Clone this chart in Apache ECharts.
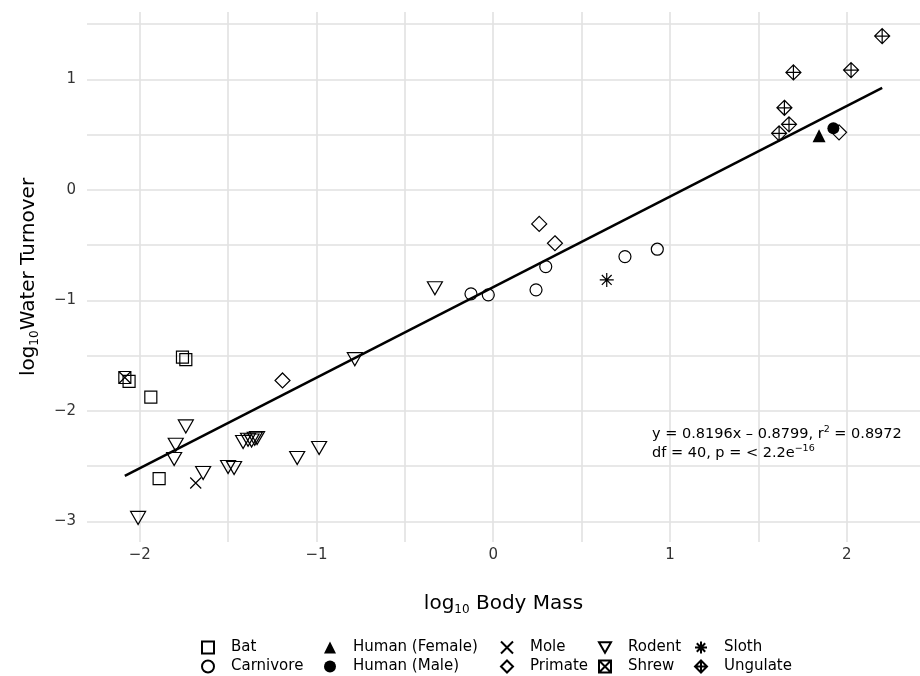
<!DOCTYPE html>
<html>
<head>
<meta charset="utf-8">
<script src="https://cdn.jsdelivr.net/npm/echarts@6/dist/echarts.min.js"></script>
<style>
  html, body { margin: 0; padding: 0; background: #fff; }
  #chart { width: 920px; height: 676px; }
</style>
</head>
<body>
<div id="chart"></div>
<script>
// values: [log10 body mass, log10 water turnover]
const bat = [[-2.060, -1.734], [-1.758, -1.514], [-1.739, -1.537], [-1.937, -1.875], [-1.890, -2.614]]
const carnivore = [[-0.126, -0.941], [-0.028, -0.950], [0.242, -0.905], [0.297, -0.694], [0.745, -0.604], [0.928, -0.537]]
const humanFemale = [[1.843, 0.490]]
const humanMale = [[1.924, 0.557]]
const mole = [[-1.683, -2.653]]
const primate = [[-1.192, -1.725], [0.260, -0.308], [0.349, -0.483], [1.956, 0.521]]
const rodent = [[-1.739, -2.141], [-1.796, -2.307], [-1.805, -2.436], [-1.641, -2.562], [-2.009, -2.969],
  [-1.415, -2.282], [-1.387, -2.261], [-1.367, -2.268], [-1.349, -2.252], [-1.336, -2.246],
  [-1.500, -2.508], [-1.466, -2.517], [-1.109, -2.427], [-0.985, -2.336], [-0.783, -1.532], [-0.330, -0.890]]
const shrew = [[-2.084, -1.698]]
const sloth = [[0.642, -0.815]]
const ungulate = [[2.200, 1.392], [1.698, 1.063], [2.024, 1.084], [1.647, 0.743], [1.673, 0.593], [1.617, 0.512]]
const fitLine = [[-2.084, -2.588], [2.200, 0.923]]

const xTicks = [-2, -1, 0, 1, 2]
const yTicks = [-3, -2, -1, 0, 1]
const xGrid = [-2, -1.5, -1, -0.5, 0, 0.5, 1, 1.5, 2]
const yGrid = [-3, -2.5, -2, -1.5, -1, -0.5, 0, 0.5, 1, 1.5]

const legendColumns = [['Bat', 'Carnivore'], ['Human (Female)', 'Human (Male)'], ['Mole', 'Primate'],
  ['Rodent', 'Shrew'], ['Sloth', 'Ungulate']]

const FONT = 'DejaVu Sans'
const legendX = [201, 324, 500, 598, 694]

const hollow = {color: 'rgba(0,0,0,0)', borderColor: '#000', borderWidth: 1.2, opacity: 1}
const filled = {color: '#000', borderColor: '#000', borderWidth: 0, opacity: 1}

const shapes = {
  downTri: 'path://M0,0L10,0L5,8.66Z',
  cross: 'path://M0,0L10,10M10,0L0,10',
  boxCross: 'path://M0,0L10,0L10,10L0,10ZM0,0L10,10M10,0L0,10',
  star: 'path://M5,0L5,10M0,5L10,5M1.5,1.5L8.5,8.5M8.5,1.5L1.5,8.5',
  diamondPlus: 'path://M5,0L10,5L5,10L0,5ZM5,0L5,10M0,5L10,5'
}

function pts(name, data, symbol, size, style) {
  return {
    name, type: 'scatter', data, symbol, symbolSize: size,
    itemStyle: style, emphasis: {disabled: true}, z: 3
  }
}

const minus = v => (v < 0 ? '\u2212' + Math.abs(v) : String(v))

const chart = echarts.init(document.getElementById('chart'))

chart.setOption({
  animation: false,
  backgroundColor: '#fff',
  textStyle: {fontFamily: FONT},
  grid: {left: 87, right: 0, top: 12, bottom: 134},
  xAxis: {
    type: 'value', min: -2.298, max: 2.414,
    name: '{a|log}{s|10}{a| Body Mass}',
    nameLocation: 'middle', nameGap: 50,
    nameTextStyle: {
      rich: {
        a: {fontSize: 20, fontFamily: FONT, color: '#000', lineHeight: 24},
        s: {fontSize: 12, fontFamily: FONT, color: '#000', lineHeight: 12, verticalAlign: 'bottom'}
      }
    },
    axisLine: {show: false},
    axisTick: {show: false, customValues: xGrid},
    axisLabel: {customValues: xTicks, formatter: minus, margin: 6, fontSize: 15, color: '#333', fontFamily: FONT},
    splitLine: {show: true, lineStyle: {color: '#e1e1e1', width: 1.6}}
  },
  yAxis: {
    type: 'value', min: -3.187, max: 1.610,
    name: '{a|log}{s|10}{a|Water Turnover}',
    nameLocation: 'middle', nameGap: 46, nameRotate: 90,
    nameTextStyle: {
      rich: {
        a: {fontSize: 20, fontFamily: FONT, color: '#000', lineHeight: 24},
        s: {fontSize: 12, fontFamily: FONT, color: '#000', lineHeight: 12, verticalAlign: 'bottom'}
      }
    },
    axisLine: {show: false},
    axisTick: {show: false, customValues: yGrid},
    axisLabel: {customValues: yTicks, formatter: minus, margin: 11, fontSize: 15, color: '#333', fontFamily: FONT},
    splitLine: {show: true, lineStyle: {color: '#e1e1e1', width: 1.6}}
  },
  legend: legendColumns.map((col, i) => ({
    data: col, orient: 'vertical', left: legendX[i], top: 640, height: 50, padding: 0,
    itemWidth: 12, itemHeight: 12, itemGap: 4,
    selectedMode: false,
    textStyle: {fontSize: 15, color: '#000', fontFamily: FONT, padding: [0, 0, 0, 12]}
  })),
  graphic: [{
    type: 'text', left: 652, top: 425, z: 10,
    style: {
      text: '{a|y = 0.8196x \u2013 0.8799, r}{p|2}{a| = 0.8972}\n{a|df = 40, p = < 2.2e}{p|\u221216}',
      rich: {
        a: {fontSize: 14.5, fontFamily: FONT, fill: '#000', lineHeight: 19},
        p: {fontSize: 9.5, fontFamily: FONT, fill: '#000', lineHeight: 11, verticalAlign: 'top'}
      }
    }
  }],
  series: [
    pts('Bat', bat, 'rect', 12, hollow),
    pts('Carnivore', carnivore, 'circle', 12, hollow),
    pts('Human (Female)', humanFemale, 'triangle', 13, filled),
    pts('Human (Male)', humanMale, 'circle', 12, filled),
    pts('Mole', mole, shapes.cross, 11, hollow),
    pts('Primate', primate, 'diamond', 15, hollow),
    pts('Rodent', rodent, shapes.downTri, [15, 13], hollow),
    pts('Shrew', shrew, shapes.boxCross, 12, hollow),
    pts('Sloth', sloth, shapes.star, 14, hollow),
    pts('Ungulate', ungulate, shapes.diamondPlus, 15, hollow),
    {
      name: 'fit', type: 'line', data: fitLine, showSymbol: false, symbol: 'none',
      lineStyle: {color: '#000', width: 2.5}, emphasis: {disabled: true}, z: 4
    }
  ]
})
</script>
</body>
</html>
